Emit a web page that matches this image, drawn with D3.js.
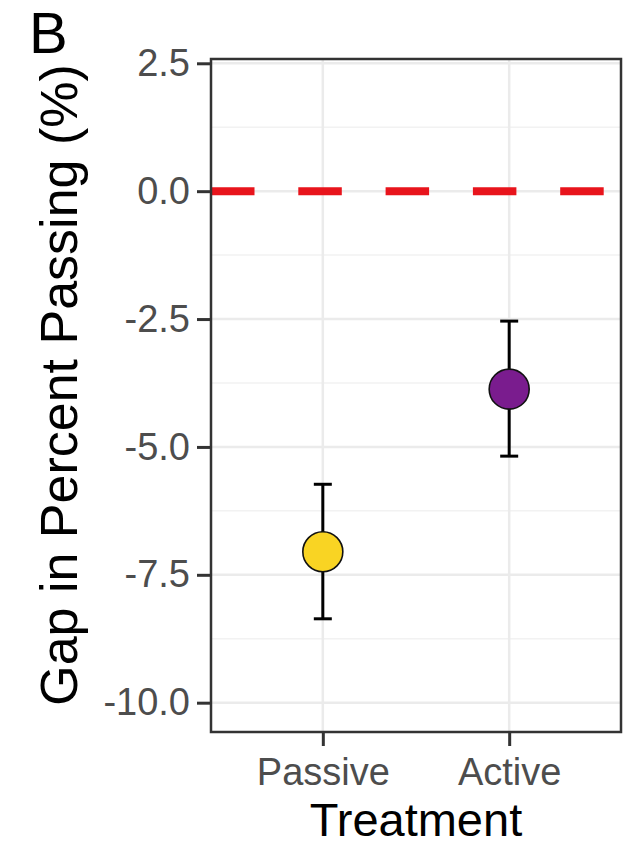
<!DOCTYPE html>
<html>
<head>
<meta charset="utf-8">
<script src="https://cdn.jsdelivr.net/npm/d3@7"></script>
<style>
  html, body { margin: 0; padding: 0; background: #ffffff; }
  svg { display: block; font-family: "Liberation Sans", Arial, sans-serif; }
</style>
</head>
<body>
<svg id="chart" width="631" height="846"></svg>
<script>
// ---- data ----
const categories = ["Passive", "Active"];
const means = [-7.05, -3.87];
const lowers = [-8.36, -5.18];
const uppers = [-5.73, -2.54];
const fills = ["#F9D423", "#7A1C8E"];
const yTickValues = [2.5, 0, -2.5, -5, -7.5, -10];
const yTickLabels = ["2.5", "0.0", "-2.5", "-5.0", "-7.5", "-10.0"];
const yMinorValues = [1.25, -1.25, -3.75, -6.25, -8.75];
const refLine = [0];
const yTitle = "Gap in Percent Passing (%)";
const xTitle = "Treatment";
const panelTag = "B";

// ---- layout ----
const panel = { left: 211, right: 621, top: 59, bottom: 732 };
const svg = d3.select("#chart");

const x = d3.scalePoint().domain(categories)
  .range([panel.left, panel.right]).padding(0.6);
const y = d3.scaleLinear().domain([-10.573, 2.584])
  .range([panel.bottom, panel.top]);

const g = svg.append("g");

// minor grid
g.selectAll("line.minor").data(yMinorValues).join("line")
  .attr("class", "minor")
  .attr("x1", panel.left).attr("x2", panel.right)
  .attr("y1", d => y(d)).attr("y2", d => y(d))
  .attr("stroke", "#F2F2F2").attr("stroke-width", 1.5);

// major grid
g.selectAll("line.majory").data(yTickValues).join("line")
  .attr("class", "majory")
  .attr("x1", panel.left).attr("x2", panel.right)
  .attr("y1", d => y(d)).attr("y2", d => y(d))
  .attr("stroke", "#EBEBEB").attr("stroke-width", 2.5);
g.selectAll("line.majorx").data(categories).join("line")
  .attr("class", "majorx")
  .attr("x1", d => x(d)).attr("x2", d => x(d))
  .attr("y1", panel.top).attr("y2", panel.bottom)
  .attr("stroke", "#EBEBEB").attr("stroke-width", 2.5);

// reference dashed line
g.selectAll("line.ref").data(refLine).join("line")
  .attr("class", "ref")
  .attr("x1", panel.left).attr("x2", panel.right)
  .attr("y1", d => y(d)).attr("y2", d => y(d))
  .attr("stroke", "#E8141C").attr("stroke-width", 8)
  .attr("stroke-dasharray", "43.5,43.8");

// error bars
const eb = g.selectAll("g.eb").data(categories).join("g").attr("class", "eb");
eb.append("line")
  .attr("x1", d => x(d)).attr("x2", d => x(d))
  .attr("y1", (d, i) => y(lowers[i])).attr("y2", (d, i) => y(uppers[i]))
  .attr("stroke", "#000").attr("stroke-width", 3);
eb.append("line")
  .attr("x1", d => x(d) - 9).attr("x2", d => x(d) + 9)
  .attr("y1", (d, i) => y(lowers[i])).attr("y2", (d, i) => y(lowers[i]))
  .attr("stroke", "#000").attr("stroke-width", 3);
eb.append("line")
  .attr("x1", d => x(d) - 9).attr("x2", d => x(d) + 9)
  .attr("y1", (d, i) => y(uppers[i])).attr("y2", (d, i) => y(uppers[i]))
  .attr("stroke", "#000").attr("stroke-width", 3);

// points
g.selectAll("circle.pt").data(categories).join("circle")
  .attr("class", "pt")
  .attr("cx", d => x(d)).attr("cy", (d, i) => y(means[i]))
  .attr("r", 20)
  .attr("fill", (d, i) => fills[i])
  .attr("stroke", "#111").attr("stroke-width", 1.6);

// panel border
svg.append("rect")
  .attr("x", panel.left).attr("y", panel.top)
  .attr("width", panel.right - panel.left).attr("height", panel.bottom - panel.top)
  .attr("fill", "none").attr("stroke", "#333333").attr("stroke-width", 2.5);

// y axis
const yAxis = d3.axisLeft(y).tickValues(yTickValues)
  .tickFormat((d, i) => yTickLabels[i]).tickSize(14).tickPadding(7);
const ya = svg.append("g").attr("transform", `translate(${panel.left},0)`).call(yAxis);
ya.select(".domain").remove();
ya.selectAll(".tick line").attr("stroke", "#333333").attr("stroke-width", 3);
ya.selectAll(".tick text").attr("fill", "#4D4D4D")
  .style("font-size", "38px").style("font-family", "'Liberation Sans', Arial, sans-serif");

// x axis
const xAxis = d3.axisBottom(x).tickSize(14).tickPadding(12);
const xa = svg.append("g").attr("transform", `translate(0,${panel.bottom})`).call(xAxis);
xa.select(".domain").remove();
xa.selectAll(".tick line").attr("stroke", "#333333").attr("stroke-width", 3);
xa.selectAll(".tick text").attr("fill", "#4D4D4D")
  .style("font-size", "38px").style("font-family", "'Liberation Sans', Arial, sans-serif");

// titles
svg.append("text")
  .attr("x", (panel.left + panel.right) / 2).attr("y", 836)
  .attr("text-anchor", "middle").attr("fill", "#000")
  .style("font-size", "47px").text(xTitle);

svg.append("text")
  .attr("transform", `translate(77,385) rotate(-90)`)
  .attr("text-anchor", "middle").attr("fill", "#000")
  .style("font-size", "52px").text(yTitle);

svg.append("text")
  .attr("x", 29).attr("y", 53)
  .attr("fill", "#000").style("font-size", "58px").text(panelTag);
</script>
</body>
</html>
